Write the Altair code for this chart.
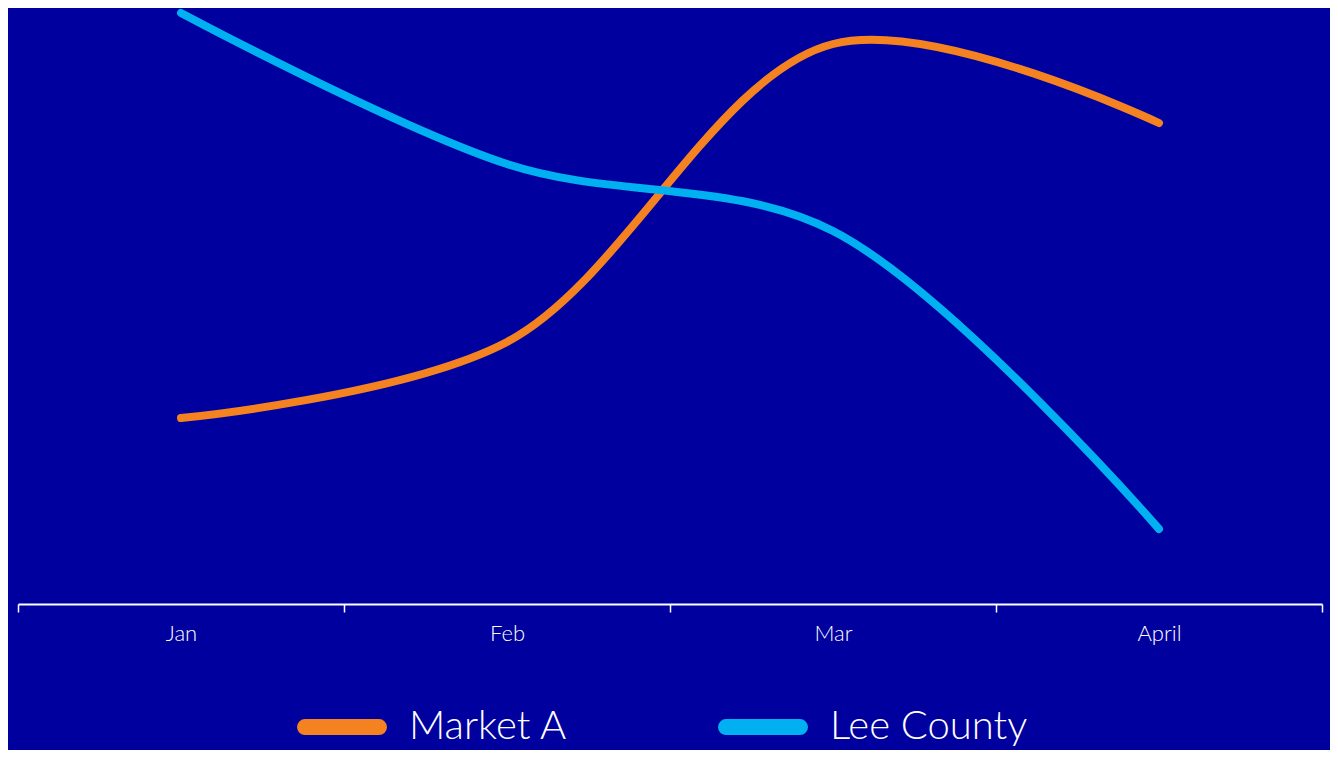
import altair as alt
import pandas as pd

months = ["Jan", "Feb", "Mar", "April"]
market_a = [18.6, 26.2, 56.0, 48.1]
lee_county = [59.1, 44.0, 37.3, 7.5]
series_names = ["Market A", "Lee County"]
series_colors = ["#F58220", "#00B0F0"]

rows = []
for m, v in zip(months, market_a):
    rows.append({"month": m, "value": v, "series": "Market A"})
for m, v in zip(months, lee_county):
    rows.append({"month": m, "value": v, "series": "Lee County"})
df = pd.DataFrame(rows)

FONT = "Lato"
# rounded "pill" legend symbol (stadium outline, stroked)
PILL = "M-2,-0.2H2A0.2,0.2 0 0 1 2,0.2H-2A0.2,0.2 0 0 1 -2,-0.2Z"

chart = alt.Chart(df).mark_line(
    strokeWidth=8, strokeCap="round", strokeJoin="round", interpolate="catmull-rom"
).encode(
    x=alt.X("month:N", sort=months,
            scale=alt.Scale(type="band", paddingInner=0, paddingOuter=0),
            axis=alt.Axis(title=None, labelAngle=0, tickBand="extent",
                          domainColor="white", domainWidth=2,
                          tickColor="white", tickWidth=1.5, tickSize=8,
                          labelColor="white", labelFontSize=22,
                          labelFont=FONT, labelFontWeight=300,
                          labelPadding=11, grid=False)),
    y=alt.Y("value:Q", scale=alt.Scale(domain=[0, 59.6], nice=False, zero=True),
            axis=None),
    color=alt.Color("series:N",
                    scale=alt.Scale(domain=series_names, range=series_colors),
                    legend=alt.Legend(title=None, orient="none", direction="horizontal",
                                      legendX=301, legendY=696, padding=0,
                                      symbolType=PILL, symbolSize=1369,
                                      symbolStrokeWidth=8.6,
                                      labelColor="white", labelFontSize=40,
                                      labelFont=FONT, labelFontWeight=300,
                                      labelOffset=44, columnPadding=137,
                                      labelLimit=400)),
    order=alt.Order("month_idx:Q"),
).transform_calculate(
    month_idx="indexof(['Jan','Feb','Mar','April'], datum.month)"
).properties(
    width=1304, height=596,
    background="#00009E",
    autosize=alt.AutoSizeParams(type="none"),
    padding={"left": 10, "top": 0, "right": 8, "bottom": 146},
).configure_view(stroke=None)

chart.save("out.html", embed_options={"renderer": "svg", "actions": False})
